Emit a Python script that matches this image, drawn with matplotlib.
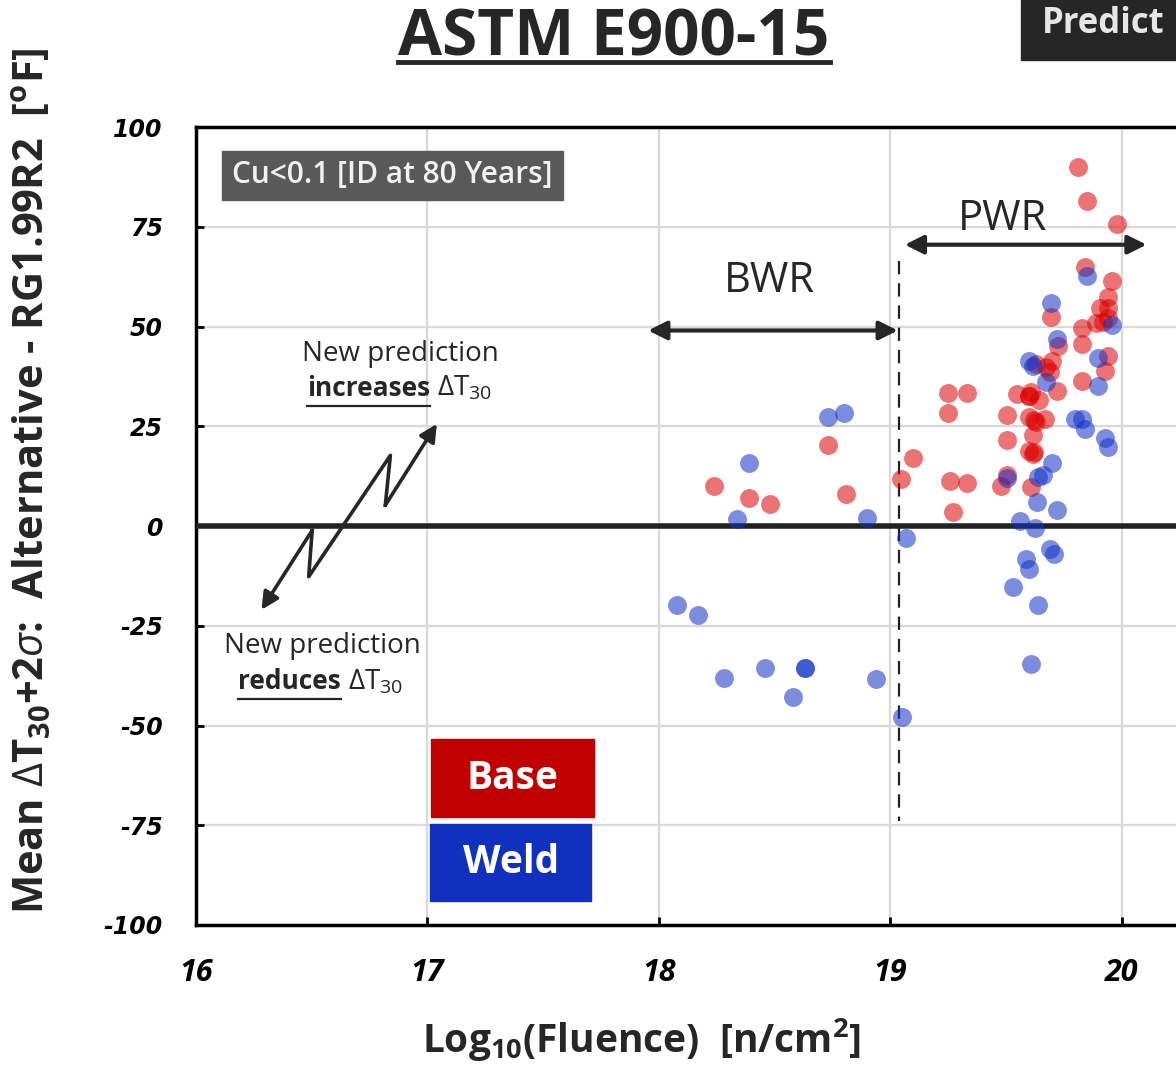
import matplotlib
matplotlib.use("Agg")
import matplotlib.pyplot as plt
from matplotlib.patches import Rectangle
from matplotlib.lines import Line2D

plt.rcParams['font.family'] = ['Open Sans', 'DejaVu Sans']
plt.rcParams['mathtext.fontset'] = 'custom'
plt.rcParams['mathtext.rm'] = 'Open Sans'
plt.rcParams['mathtext.it'] = 'Open Sans:italic'
plt.rcParams['mathtext.bf'] = 'Open Sans:bold'
plt.rcParams['axes.unicode_minus'] = False

# Base metal (red) points: log10 fluence, mean dT30+2sigma difference [F]
base_x = [18.24, 18.39, 18.48, 18.73, 18.81, 19.045, 19.10, 19.26, 19.33, 19.27,
          19.25, 19.33, 19.25, 19.48, 19.505, 19.505, 19.505, 19.55, 19.60, 19.61,
          19.60, 19.63, 19.62, 19.67, 19.615, 19.60, 19.615, 19.61, 19.63, 19.675,
          19.69, 19.70, 19.72, 19.725, 19.695, 19.645, 19.81, 19.85, 19.98, 19.84,
          19.96, 19.94, 19.94, 19.905, 19.89, 19.92, 19.94, 19.83, 19.83, 19.94,
          19.93, 19.83, 19.62, 19.60]
base_y = [9.9, 7.0, 5.4, 20.3, 7.9, 11.8, 17.0, 11.4, 10.8, 3.5,
          33.3, 33.3, 28.3, 9.9, 12.9, 21.6, 27.7, 33.1, 32.7, 33.5,
          27.3, 26.0, 26.5, 26.8, 22.7, 18.7, 18.1, 9.8, 40.6, 39.8,
          38.5, 41.4, 33.9, 45.2, 52.5, 31.6, 90.0, 81.4, 75.8, 64.8,
          61.4, 57.5, 54.6, 54.6, 51.0, 51.2, 52.2, 49.6, 45.6, 42.7,
          38.9, 36.3, 18.5, 32.7]

# Weld metal (blue) points
weld_x = [18.08, 18.17, 18.28, 18.34, 18.39, 18.46, 18.58, 18.63, 18.63, 18.73,
          18.80, 18.90, 18.94, 19.05, 19.07, 19.505, 19.53, 19.56, 19.585, 19.60,
          19.61, 19.625, 19.635, 19.64, 19.64, 19.66, 19.69, 19.71, 19.70, 19.72,
          19.60, 19.615, 19.675, 19.695, 19.72, 19.80, 19.83, 19.84, 19.85, 19.90,
          19.90, 19.93, 19.94, 19.96]
weld_y = [-19.7, -22.2, -38.0, 1.7, 15.8, -35.5, -42.9, -35.5, -35.5, 27.2,
          28.2, 2.1, -38.4, -47.9, -3.0, 12.0, -15.3, 1.2, -8.3, -10.9,
          -34.6, -0.5, 5.9, -19.8, 12.4, 12.9, -5.8, -6.9, 15.8, 3.9,
          41.4, 40.2, 36.2, 56.0, 46.8, 26.8, 26.8, 24.2, 62.7, 42.0,
          35.2, 22.0, 19.8, 50.3]

x_ticks = [16, 17, 18, 19, 20]
y_ticks = [-100, -75, -50, -25, 0, 25, 50, 75, 100]

W, H = 1176, 1067
fig = plt.figure(figsize=(W / 100, H / 100), dpi=100)
ax = fig.add_axes([196 / W, 1 - 925 / H, (1353 - 196) / W, (925 - 127) / H])


def px(x, y):
    # pixel position -> figure fraction
    return x / W, 1 - y / H


ax.set_xlim(16, 21)
ax.set_ylim(-100, 100)
ax.set_xticks(x_ticks)
ax.set_yticks(y_ticks)
ax.grid(True, color='#d9d9d9', lw=1.6)
ax.set_axisbelow(True)
for s in ['left', 'top', 'bottom', 'right']:
    ax.spines[s].set_linewidth(2.5)
    ax.spines[s].set_color('black')
ax.tick_params(direction='in', length=6, width=2, pad=24)
for lb in ax.get_xticklabels():
    lb.set_fontsize(22)
    lb.set_fontweight('bold')
    lb.set_fontstyle('italic')
for lb in ax.get_yticklabels():
    lb.set_family('DejaVu Sans')
    lb.set_fontsize(17)
    lb.set_fontweight('bold')
    lb.set_fontstyle('italic')

ax.axhline(0, color='#222222', lw=4, zorder=3)

ax.scatter(base_x, base_y, s=185, color='#dd0000', alpha=0.55, lw=0, zorder=4)
ax.scatter(weld_x, weld_y, s=185, color='#1030c8', alpha=0.55, lw=0, zorder=5)

# BWR / PWR ranges
ax.plot([19.04, 19.04], [66.5, -74], color='#222222', lw=1.6, ls=(0, (6, 4)), zorder=3)
arrow = dict(arrowstyle='<|-|>', lw=3, color='#262626', mutation_scale=28,
             shrinkA=0, shrinkB=0)
ax.annotate('', xy=(17.954, 49), xytext=(19.033, 49), arrowprops=arrow, zorder=6)
ax.annotate('', xy=(19.063, 70.5), xytext=(20.108, 70.5), arrowprops=arrow, zorder=6)
ax.text(18.48, 61.5, 'BWR', fontsize=30, ha='center', va='center', color='#262626')
ax.text(19.487, 77, 'PWR', fontsize=30, ha='center', va='center', color='#262626')

# zig-zag double arrow
zx = [16.283, 16.502, 16.487, 16.840, 16.818, 17.041]
zy = [-21.0, -1.1, -12.7, 17.7, 5.2, 25.6]
ax.plot(zx[1:5], zy[1:5], color='#262626', lw=2.6, solid_joinstyle='round', zorder=6)
tip = dict(arrowstyle='-|>', lw=2.6, color='#262626', mutation_scale=26,
           shrinkA=0, shrinkB=0)
ax.annotate('', xy=(zx[0], zy[0]), xytext=(zx[1], zy[1]), arrowprops=tip, zorder=6)
ax.annotate('', xy=(zx[5], zy[5]), xytext=(zx[4], zy[4]), arrowprops=tip, zorder=6)

# Cu label box
ax.add_patch(Rectangle((16.114, 81.75), 1.473, 12.25, color='#595959', zorder=6))
ax.text(16.85, 87.9, 'Cu<0.1 [ID at 80 Years]', fontsize=21.5, fontweight='semibold',
        color='#f2f2f2', ha='center', va='center', zorder=7)

# legend boxes
ax.add_patch(Rectangle((17.017, -73.0), 0.703, 19.5, color='#c00000', zorder=6))
ax.add_patch(Rectangle((17.012, -94.0), 0.695, 19.25, color='#1030c0', zorder=6))
ax.text(17.368, -63.3, 'Base', fontsize=28, fontweight='bold', color='white',
        ha='center', va='center', zorder=7)
ax.text(17.36, -84.4, 'Weld', fontsize=28, fontweight='bold', color='white',
        ha='center', va='center', zorder=7)

# title and axis labels
title = fig.text(*px(614, 39), 'ASTM E900-15', fontsize=46, fontweight='bold',
                 ha='center', va='center', color='#262626')
fig.text(*px(642, 1040), r'Log$_{\mathbf{10}}$(Fluence)  [n/cm$^{\mathbf{2}}$]',
         fontsize=28, fontweight='bold', ha='center', va='center', color='#262626')
fig.text(*px(33, 481),
         r'Mean $\Delta$T$_{\mathbf{30}}$+2$\sigma$:  Alternative - RG1.99R2  [$^{\mathbf{o}}$F]',
         fontsize=30, fontweight='bold', rotation=90, ha='center', va='center',
         color='#262626')

# dark header box at the top right
fig.patches.append(Rectangle(px(1021, 60), 0.2, 60 / H, color='#262626',
                             transform=fig.transFigure, figure=fig))
fig.text(*px(1042, 24), 'Predict', fontsize=25, fontweight='bold', color='#e6e6e6',
         ha='left', va='center')

# explanatory notes
fig.text(*px(400, 354), 'New prediction', fontsize=20, ha='center', va='center',
         color='#262626')
fig.text(*px(322, 646), 'New prediction', fontsize=20, ha='center', va='center',
         color='#262626')
inc = fig.text(*px(307, 396), 'increases', fontsize=19, fontweight='bold',
               ha='left', va='baseline', color='#262626')
inc_dt = fig.text(*px(437, 396), r'$\Delta$T$_{30}$', fontsize=20, ha='left',
                  va='baseline', color='#262626')
red = fig.text(*px(238, 689), 'reduces', fontsize=19, fontweight='bold',
               ha='left', va='baseline', color='#262626')
red_dt = fig.text(*px(347, 689), r'$\Delta$T$_{30}$', fontsize=20, ha='left',
                  va='baseline', color='#262626')

# underlines, and keep the delta-T pieces clear of the bold words
fig.canvas.draw()
rend = fig.canvas.get_renderer()
for word, dt in [(inc, inc_dt), (red, red_dt)]:
    bb = word.get_window_extent(rend)
    dt.set_x((bb.x1 + 7) / W)
for t, gap, lw in [(title, -10, 3.5), (inc, 4, 1.6), (red, 4, 1.6)]:
    bb = t.get_window_extent(rend)
    x0, x1 = bb.x0 / W, bb.x1 / W
    yy = (bb.y0 - gap) / H
    fig.add_artist(Line2D([x0, x1], [yy, yy], color='#262626', lw=lw,
                          transform=fig.transFigure))

fig.savefig('out.png', dpi=100)
